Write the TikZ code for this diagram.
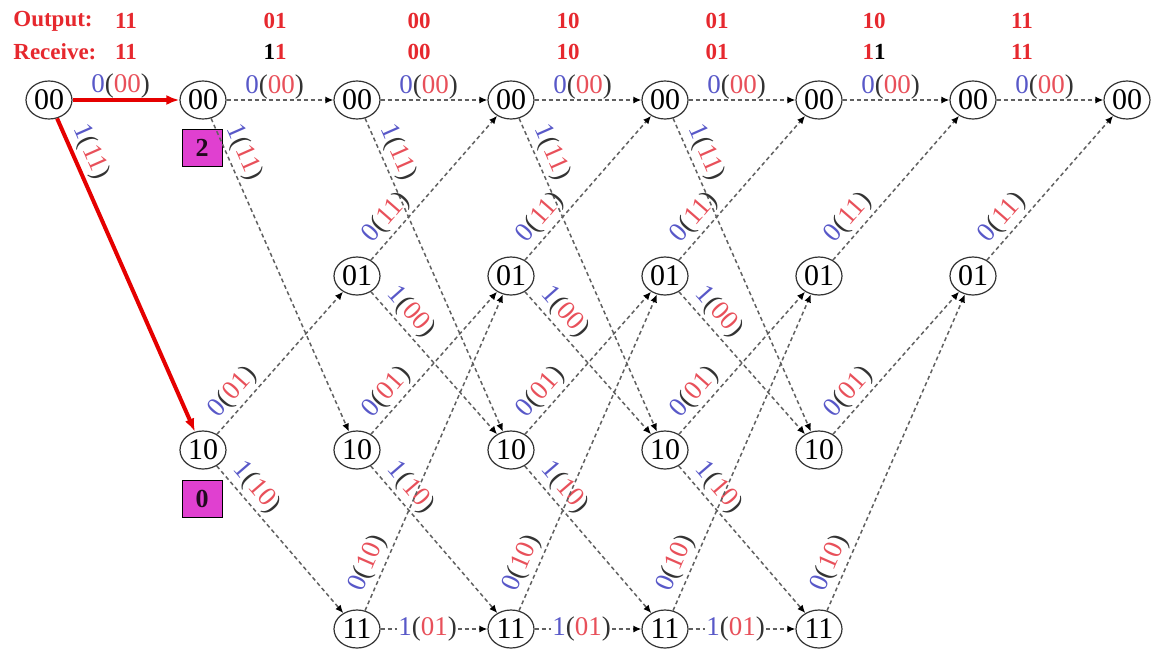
\documentclass[tikz,border=0pt]{standalone}
\usepackage{fontspec}
\setmainfont{Liberation Serif}
\usepackage{xcolor}
\definecolor{headRed}{HTML}{E6282E}
\definecolor{inputBlue}{HTML}{5858C8}
\definecolor{codeRed}{HTML}{E8505A}
\definecolor{parenGray}{HTML}{333333}
\definecolor{edgeGray}{HTML}{606060}
\definecolor{metricPink}{HTML}{E040D0}
\usepackage{tikz}
\usetikzlibrary{
    shapes.geometric,
    arrows.meta,
    positioning
}
\newcommand{\edgetext}[2]{\textcolor{inputBlue}{#1}\textcolor{parenGray}{(}\textcolor{codeRed}{#2}\textcolor{parenGray}{)}}
\newcommand{\errbit}[1]{\textcolor{black}{#1}}
\tikzset{
    % Trellis state - small ellipse
    state/.style={
        ellipse,
        draw=black!80,
        line width=0.6pt,
        minimum width=23pt,
        minimum height=19pt,
        inner sep=0pt,
        font=\fontsize{15}{15}\selectfont,
    },
    % Header text - bold red
    head/.style={
        font=\fontsize{11.5}{12}\selectfont\bfseries,
        text=headRed,
        inner sep=0pt,
    },
    % Path metric box - magenta square
    metric/.style={
        rectangle,
        draw=black,
        line width=0.5pt,
        fill=metricPink,
        minimum width=20pt,
        minimum height=18.5pt,
        inner sep=0pt,
        font=\fontsize{13}{13}\selectfont\bfseries,
        text=black!85!metricPink,
    },
    % Possible transition - dashed gray
    trans/.style={
        -{Latex[length=4pt, width=3.5pt, black]},
        draw=edgeGray,
        line width=0.75pt,
        dash pattern=on 2pt off 1.5pt,
    },
    % Survivor path - thick red
    survivor/.style={
        -{Latex[length=6.5pt, width=5pt]},
        draw=red!90!black,
        line width=2pt,
    },
    % Edge label input(output)
    lbl/.style={
        font=\fontsize{13.5}{14}\selectfont,
        inner sep=1.5pt,
    },
    % Edge label over a straight edge
    lbl flat/.style={
        lbl,
        above,
        inner sep=0pt,
        pos=0.45,
    },
    % Edge label sitting on the line
    lbl on/.style={
        lbl,
        fill=white,
        inner sep=0.5pt,
    },
}

\begin{document}
\begin{tikzpicture}[x=0.5pt, y=0.5pt]
    \useasboundingbox (0,0) rectangle (1151,-653);

    \node (outlbl) [head, anchor=west] at (13,-21) {Output:};
    \node (rcvlbl) [head, anchor=west] at (13,-52) {Receive:};
    \foreach \x/\o/\r [count=\i] in {126/11/11, 275/01/{\errbit{1}1}, 419/00/00, 568/10/10,
        717/01/01, 874/10/{1\errbit{1}}, 1022/11/11} {
        \node (out\i) [head] at (\x,-21) {\o};
        \node (rcv\i) [head] at (\x,-52) {\r};
    }

    \node (t0s00) [state] at (49,-100) {00};
    \node (t1s00) [state] at (203,-100) {00};
    \node (t1s10) [state] at (203,-450) {10};
    \foreach \col in {2,...,5} {
        \node (t\col s00) [state] at ({49+154*\col},-100) {00};
        \node (t\col s01) [state] at ({49+154*\col},-276) {01};
        \node (t\col s10) [state] at ({49+154*\col},-450) {10};
        \node (t\col s11) [state] at ({49+154*\col},-629) {11};
    }
    \node (t6s00) [state] at (973,-100) {00};
    \node (t6s01) [state] at (973,-276) {01};
    \node (t7s00) [state] at (1127,-100) {00};

    \node (pm1) [metric] at (202,-148) {2};
    \node (pm2) [metric] at (202,-499) {0};

    \draw [survivor] (t0s00) -- node [lbl flat] {\edgetext{0}{00}} (t1s00);
    \draw [survivor] (t0s00) -- node [lbl, above, sloped, pos=0.13] {\edgetext{1}{11}} (t1s10);

    \draw [trans] (t1s00) -- node [lbl flat] {\edgetext{0}{00}} (t2s00);
    \draw [trans] (t1s00) -- node [lbl, above, sloped, pos=0.13] {\edgetext{1}{11}} (t2s10);
    \draw [trans] (t1s10) -- node [lbl, above, sloped, pos=0.22] {\edgetext{0}{01}} (t2s01);
    \draw [trans] (t1s10) -- node [lbl, above, sloped, pos=0.22] {\edgetext{1}{10}} (t2s11);

    \foreach \col/\nxt in {2/3, 3/4, 4/5} {
        \draw [trans] (t\col s00) -- node [lbl flat] {\edgetext{0}{00}} (t\nxt s00);
        \draw [trans] (t\col s00) -- node [lbl, above, sloped, pos=0.13] {\edgetext{1}{11}} (t\nxt s10);
        \draw [trans] (t\col s01) -- node [lbl, above, sloped, pos=0.22] {\edgetext{0}{11}} (t\nxt s00);
        \draw [trans] (t\col s01) -- node [lbl, above, sloped, pos=0.22] {\edgetext{1}{00}} (t\nxt s10);
        \draw [trans] (t\col s10) -- node [lbl, above, sloped, pos=0.22] {\edgetext{0}{01}} (t\nxt s01);
        \draw [trans] (t\col s10) -- node [lbl, above, sloped, pos=0.22] {\edgetext{1}{10}} (t\nxt s11);
        \draw [trans] (t\col s11) -- node [lbl, above, sloped, pos=0.13] {\edgetext{0}{10}} (t\nxt s01);
        \draw [trans] (t\col s11) -- node [lbl on, pos=0.44] {\edgetext{1}{01}} (t\nxt s11);
    }

    \draw [trans] (t5s00) -- node [lbl flat] {\edgetext{0}{00}} (t6s00);
    \draw [trans] (t5s01) -- node [lbl, above, sloped, pos=0.22] {\edgetext{0}{11}} (t6s00);
    \draw [trans] (t5s10) -- node [lbl, above, sloped, pos=0.22] {\edgetext{0}{01}} (t6s01);
    \draw [trans] (t5s11) -- node [lbl, above, sloped, pos=0.13] {\edgetext{0}{10}} (t6s01);

    \draw [trans] (t6s00) -- node [lbl flat] {\edgetext{0}{00}} (t7s00);
    \draw [trans] (t6s01) -- node [lbl, above, sloped, pos=0.22] {\edgetext{0}{11}} (t7s00);
\end{tikzpicture}
\end{document}
